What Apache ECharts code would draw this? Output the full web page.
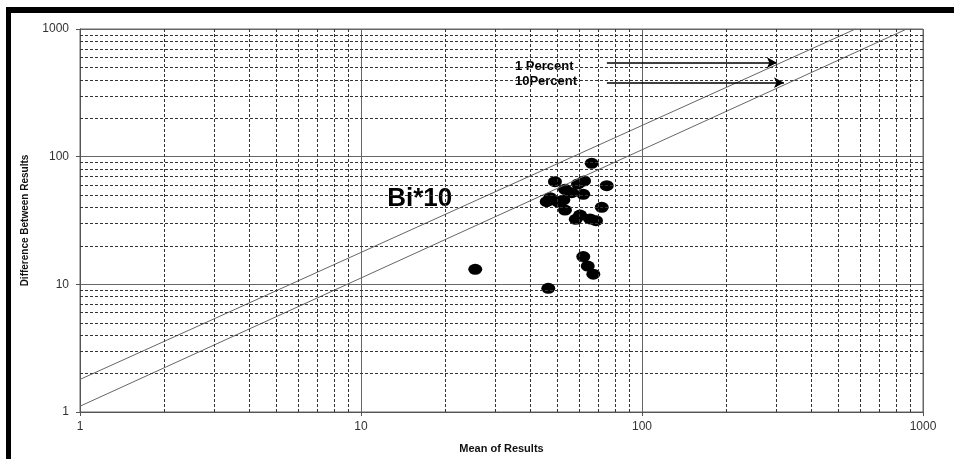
<!DOCTYPE html>
<html>
<head>
<meta charset="utf-8">
<script src="https://cdn.jsdelivr.net/npm/echarts@6/dist/echarts.min.js"></script>
<style>
  html, body { margin: 0; padding: 0; background: #fff; }
  #chart { width: 954px; height: 459px; }
</style>
</head>
<body>
<div id="chart"></div>
<script>
var myChart = echarts.init(document.getElementById('chart'));

// readings: [mean, difference]
var points = [
    [66.2, 88.7], [49.0, 63.7], [59.2, 61.1], [62.2, 64.5], [74.9, 59.3],
    [53.2, 55.5], [56.2, 52.2], [61.8, 50.7], [47.1, 47.7], [45.8, 44.4],
    [52.5, 45.8], [50.2, 44.2], [53.2, 38.2], [71.9, 40.1], [60.2, 34.9],
    [58.1, 32.3], [65.3, 32.5], [68.6, 31.5], [61.8, 16.5], [64.1, 13.9],
    [67.1, 12.0], [46.4, 9.3], [25.5, 13.1]
];

// the two reference lines
var upperLine = [[1, 1.8], [575, 1000]];
var lowerLine = [[1, 1.11], [875, 1000]];

// minor grid values (2..9 in every decade)
var minorValues = [2, 3, 4, 5, 6, 7, 8, 9,
    20, 30, 40, 50, 60, 70, 80, 90,
    200, 300, 400, 500, 600, 700, 800, 900];

// arrows and text notes
var arrows = [
    [[75, 545], [302, 545]],
    [[75, 380], [320, 380]]
];
var notes = [
    {value: [35.3, 513], text: '1 Percent'},
    {value: [35.3, 392], text: '10Percent'}
];
var titleNote = {value: [12.4, 46.6], text: 'Bi*10'};

var axisColor = '#555';
var fontFamily = 'Liberation Sans, Arial, sans-serif';
var labelStyle = {color: '#333', fontSize: 12, fontFamily: fontFamily};

var minorLines = minorValues.map(function (v) { return {xAxis: v}; })
    .concat(minorValues.map(function (v) { return {yAxis: v}; }));

function plainNumber(v) {
    return String(Math.round(v));
}

var option = {
    backgroundColor: '#fff',
    animation: false,
    graphic: [
        {type: 'rect', shape: {x: 6, y: 7, width: 948, height: 6}, style: {fill: '#000'}},
        {type: 'rect', shape: {x: 6, y: 7, width: 5, height: 452}, style: {fill: '#000'}}
    ],
    grid: {
        left: 80, top: 29, right: 31, bottom: 47,
        show: true, borderColor: '#666', borderWidth: 1
    },
    xAxis: {
        type: 'log',
        min: 1, max: 1000,
        name: 'Mean of Results',
        nameLocation: 'middle',
        nameGap: 31,
        nameTextStyle: {color: '#111', fontSize: 11, fontWeight: 'bold', fontFamily: fontFamily},
        axisLine: {lineStyle: {color: axisColor}},
        axisTick: {show: true, length: 4, lineStyle: {color: axisColor}},
        axisLabel: Object.assign({margin: 9, formatter: plainNumber}, labelStyle),
        splitLine: {show: true, lineStyle: {color: '#666', width: 1}}
    },
    yAxis: {
        type: 'log',
        min: 1, max: 1000,
        name: 'Difference Between Results',
        nameLocation: 'middle',
        nameGap: 50,
        nameTextStyle: {color: '#111', fontSize: 10, fontWeight: 'bold', fontFamily: fontFamily},
        axisLine: {show: true, lineStyle: {color: axisColor}},
        axisTick: {show: true, length: 4, lineStyle: {color: axisColor}},
        axisLabel: Object.assign({margin: 11, formatter: plainNumber}, labelStyle),
        splitLine: {show: true, lineStyle: {color: '#666', width: 1}}
    },
    series: [
        {
            name: 'minor grid',
            type: 'scatter',
            data: [],
            silent: true,
            markLine: {
                silent: true,
                symbol: ['none', 'none'],
                label: {show: false},
                lineStyle: {color: '#333', type: [3, 2], width: 1},
                emphasis: {disabled: true},
                data: minorLines
            }
        },
        {
            name: 'upper',
            type: 'line',
            data: upperLine,
            showSymbol: false,
            symbol: 'none',
            lineStyle: {color: '#666', width: 1}
        },
        {
            name: 'lower',
            type: 'line',
            data: lowerLine,
            showSymbol: false,
            symbol: 'none',
            lineStyle: {color: '#666', width: 1},
            markLine: {
                silent: true,
                symbol: ['none', 'arrow'],
                symbolSize: [8, 10],
                label: {show: false},
                lineStyle: {color: '#000', type: 'solid', width: 1.5},
                data: arrows.map(function (a) {
                    return [{coord: a[0]}, {coord: a[1]}];
                })
            }
        },
        {
            name: 'results',
            type: 'scatter',
            data: points,
            symbol: 'circle',
            symbolSize: [14, 11],
            itemStyle: {color: '#000', opacity: 1}
        },
        {
            name: 'notes',
            type: 'scatter',
            symbolSize: 0,
            silent: true,
            itemStyle: {opacity: 1},
            data: notes.map(function (n) {
                return {value: n.value, label: {formatter: n.text}};
            }).concat([{
                value: titleNote.value,
                label: {formatter: titleNote.text, fontSize: 26}
            }]),
            label: {
                show: true,
                position: 'right',
                distance: 0,
                color: '#000',
                fontSize: 13,
                fontWeight: 'bold',
                fontFamily: fontFamily
            }
        }
    ]
};

myChart.setOption(option);
</script>
</body>
</html>
